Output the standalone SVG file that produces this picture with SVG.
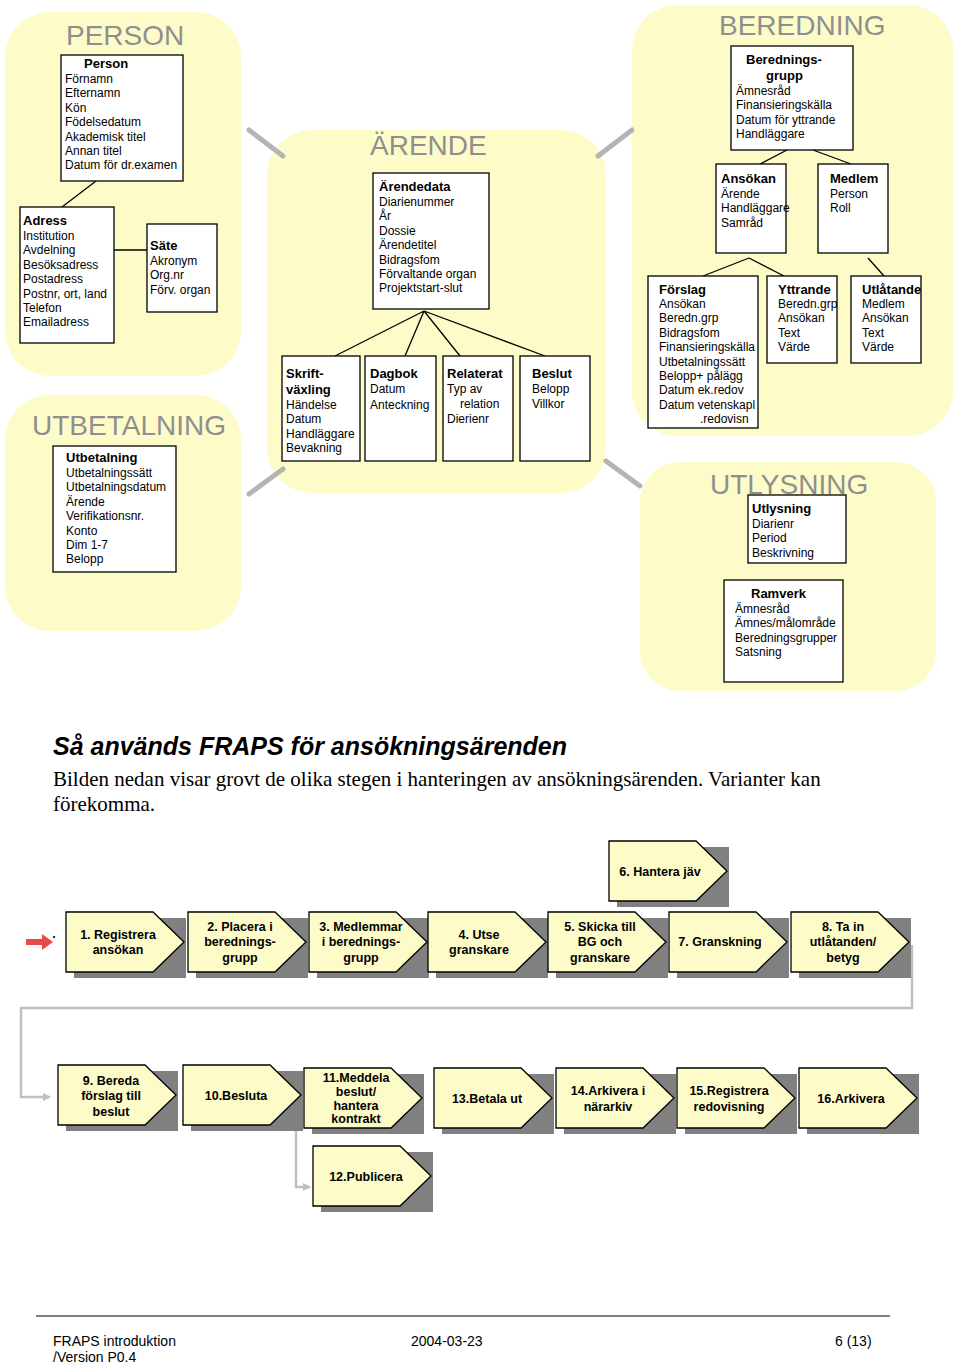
<svg xmlns="http://www.w3.org/2000/svg" width="960" height="1366" viewBox="0 0 960 1366">
<style>
.blob{fill:#fdfcc9}
.ttl{font-family:"Liberation Sans",Arial,sans-serif;font-size:28px;fill:#8f8f8f}
.box{fill:#fff;stroke:#000;stroke-width:1.3}
.t{font-family:"Liberation Sans",Arial,sans-serif;font-size:12px;fill:#000}
.b{font-weight:bold;font-size:13px}
.rel{stroke:#000;stroke-width:1.3;fill:none}
.gl{stroke:#b4b4b4;stroke-width:5;stroke-linecap:round}
.chev{fill:#fdfcc9;stroke:#000;stroke-width:1.3}
.sh{fill:#808080}
.ct{font-family:"Liberation Sans",Arial,sans-serif;font-size:12.5px;font-weight:bold;text-anchor:middle;fill:#000}
.flow{stroke:#c0c0c0;stroke-width:2.5;fill:none}
.ft{font-family:"Liberation Sans",Arial,sans-serif;font-size:14px;fill:#000}
</style>
<defs>
<g id="chv"><rect class="sh" x="8" y="6" width="112" height="60"/><path class="chev" d="M0,0H87L118,30L87,60H0Z"/></g>
<marker id="ga" markerWidth="8" markerHeight="8" refX="7" refY="4" orient="auto" markerUnits="userSpaceOnUse"><path d="M0,0L8,4L0,8Z" fill="#c0c0c0"/></marker>
</defs>
<rect width="960" height="1366" fill="#fff"/>
<!-- blobs -->
<rect class="blob" x="5" y="12" width="236" height="364" rx="45"/>
<rect class="blob" x="5" y="395" width="236" height="236" rx="45"/>
<rect class="blob" x="267" y="130" width="339" height="363" rx="45"/>
<rect class="blob" x="632" y="5" width="321" height="431" rx="45"/>
<rect class="blob" x="640" y="462" width="296" height="229" rx="40"/>
<g id="links-gray">
<line class="gl" x1="249" y1="130" x2="283" y2="156"/>
<line class="gl" x1="249" y1="494" x2="283" y2="469"/>
<line class="gl" x1="598" y1="156" x2="632" y2="130"/>
<line class="gl" x1="606" y1="461" x2="640" y2="486"/>
</g>
<text class="ttl" x="66" y="45">PERSON</text>
<text class="ttl" x="32" y="435">UTBETALNING</text>
<text class="ttl" x="370" y="155">ÄRENDE</text>
<text class="ttl" x="719" y="35">BEREDNING</text>
<text class="ttl" x="710" y="494">UTLYSNING</text>
<g id="connectors">
<path class="rel" d="M96,181L62,207M114,250H147"/>
<path class="rel" d="M424,311L335,356M424,311L405,356M424,311L460,356M424,311L545,356"/>
<path class="rel" d="M787,150L760,164M813,150L851,164M749,258L703,276M749,258L784,276M868,258L884,276"/>
<path class="flow" d="M912,945V1008H21V1097H50" marker-end="url(#ga)"/>
<path class="flow" d="M296,1103V1187H310" marker-end="url(#ga)"/>
</g>
<g id="person"><rect class="box" x="61" y="55" width="122" height="126"/>
<text class="t" x="65" y="83"><tspan class="b" x="84" y="68">Person</tspan><tspan x="65" y="83">Förnamn</tspan><tspan x="65" dy="14.4">Efternamn</tspan><tspan x="65" dy="14.4">Kön</tspan><tspan x="65" dy="14.4">Födelsedatum</tspan><tspan x="65" dy="14.4">Akademisk titel</tspan><tspan x="65" dy="14.4">Annan titel</tspan><tspan x="65" dy="14.4">Datum för dr.examen</tspan></text></g>
<g id="adress"><rect class="box" x="20" y="207" width="94" height="136"/>
<text class="t"><tspan class="b" x="23" y="225">Adress</tspan><tspan x="23" y="240">Institution</tspan><tspan x="23" dy="14.4">Avdelning</tspan><tspan x="23" dy="14.4">Besöksadress</tspan><tspan x="23" dy="14.4">Postadress</tspan><tspan x="23" dy="14.4">Postnr, ort, land</tspan><tspan x="23" dy="14.4">Telefon</tspan><tspan x="23" dy="14.4">Emailadress</tspan></text></g>
<g id="sate"><rect class="box" x="147" y="224" width="70" height="88"/>
<text class="t"><tspan class="b" x="150" y="250">Säte</tspan><tspan x="150" y="265">Akronym</tspan><tspan x="150" dy="14.4">Org.nr</tspan><tspan x="150" dy="14.4">Förv. organ</tspan></text></g>
<g id="utbetalning"><rect class="box" x="53" y="446" width="123" height="126"/>
<text class="t"><tspan class="b" x="66" y="462">Utbetalning</tspan><tspan x="66" y="477">Utbetalningssätt</tspan><tspan x="66" dy="14.4">Utbetalningsdatum</tspan><tspan x="66" dy="14.4">Ärende</tspan><tspan x="66" dy="14.4">Verifikationsnr.</tspan><tspan x="66" dy="14.4">Konto</tspan><tspan x="66" dy="14.4">Dim 1-7</tspan><tspan x="66" dy="14.4">Belopp</tspan></text></g>
<g id="arendedata"><rect class="box" x="373" y="173" width="116" height="136"/>
<text class="t"><tspan class="b" x="379" y="191">Ärendedata</tspan><tspan x="379" y="206">Diarienummer</tspan><tspan x="379" dy="14.4">År</tspan><tspan x="379" dy="14.4">Dossie</tspan><tspan x="379" dy="14.4">Ärendetitel</tspan><tspan x="379" dy="14.4">Bidragsfom</tspan><tspan x="379" dy="14.4">Förvaltande organ</tspan><tspan x="379" dy="14.4">Projektstart-slut</tspan></text></g>
<g id="skrift"><rect class="box" x="282" y="356" width="78" height="105"/>
<text class="t"><tspan class="b" x="286" y="378">Skrift-</tspan><tspan class="b" x="286" y="394">växling</tspan><tspan x="286" y="409">Händelse</tspan><tspan x="286" dy="14.4">Datum</tspan><tspan x="286" dy="14.4">Handläggare</tspan><tspan x="286" dy="14.4">Bevakning</tspan></text></g>
<g id="dagbok"><rect class="box" x="365" y="356" width="71" height="105"/>
<text class="t"><tspan class="b" x="370" y="378">Dagbok</tspan><tspan x="370" y="393">Datum</tspan><tspan x="370" y="409">Anteckning</tspan></text></g>
<g id="relaterat"><rect class="box" x="443" y="356" width="70" height="105"/>
<text class="t"><tspan class="b" x="447" y="378">Relaterat</tspan><tspan x="447" y="393">Typ av</tspan><tspan x="460" y="408">relation</tspan><tspan x="447" y="423">Dierienr</tspan></text></g>
<g id="beslut"><rect class="box" x="520" y="356" width="70" height="105"/>
<text class="t"><tspan class="b" x="532" y="378">Beslut</tspan><tspan x="532" y="393">Belopp</tspan><tspan x="532" y="408">Villkor</tspan></text></g>
<g id="beredningsgrupp"><rect class="box" x="731" y="46" width="122" height="104"/>
<text class="t"><tspan class="b" x="746" y="64">Berednings-</tspan><tspan class="b" x="766" y="80">grupp</tspan><tspan x="736" y="95">Ämnesråd</tspan><tspan x="736" dy="14.4">Finansieringskälla</tspan><tspan x="736" dy="14.4">Datum för yttrande</tspan><tspan x="736" dy="14.4">Handläggare</tspan></text></g>
<g id="ansokan"><rect class="box" x="716" y="164" width="70" height="89"/>
<text class="t"><tspan class="b" x="721" y="183">Ansökan</tspan><tspan x="721" y="198">Ärende</tspan><tspan x="721" dy="14.4">Handläggare</tspan><tspan x="721" dy="14.4">Samråd</tspan></text></g>
<g id="medlem"><rect class="box" x="818" y="164" width="70" height="89"/>
<text class="t"><tspan class="b" x="830" y="183">Medlem</tspan><tspan x="830" y="198">Person</tspan><tspan x="830" dy="14.4">Roll</tspan></text></g>
<g id="forslag"><rect class="box" x="648" y="276" width="110" height="152"/>
<text class="t"><tspan class="b" x="659" y="294">Förslag</tspan><tspan x="659" y="308">Ansökan</tspan><tspan x="659" dy="14.4">Beredn.grp</tspan><tspan x="659" dy="14.4">Bidragsfom</tspan><tspan x="659" dy="14.4">Finansieringskälla</tspan><tspan x="659" dy="14.4">Utbetalningssätt</tspan><tspan x="659" dy="14.4">Belopp+ pålägg</tspan><tspan x="659" dy="14.4">Datum ek.redov</tspan><tspan x="659" dy="14.4">Datum vetenskapl</tspan><tspan x="700" dy="14.4">.redovisn</tspan></text></g>
<g id="yttrande"><rect class="box" x="767" y="276" width="70" height="87"/>
<text class="t"><tspan class="b" x="778" y="294">Yttrande</tspan><tspan x="778" y="308">Beredn.grp</tspan><tspan x="778" dy="14.4">Ansökan</tspan><tspan x="778" dy="14.4">Text</tspan><tspan x="778" dy="14.4">Värde</tspan></text></g>
<g id="utlatande"><rect class="box" x="851" y="276" width="70" height="87"/>
<text class="t"><tspan class="b" x="862" y="294">Utlåtande</tspan><tspan x="862" y="308">Medlem</tspan><tspan x="862" dy="14.4">Ansökan</tspan><tspan x="862" dy="14.4">Text</tspan><tspan x="862" dy="14.4">Värde</tspan></text></g>
<g id="utlysning"><rect class="box" x="748" y="495" width="98" height="68"/>
<text class="t"><tspan class="b" x="752" y="513">Utlysning</tspan><tspan x="752" y="528">Diarienr</tspan><tspan x="752" dy="14.4">Period</tspan><tspan x="752" dy="14.4">Beskrivning</tspan></text></g>
<g id="ramverk"><rect class="box" x="724" y="580" width="119" height="102"/>
<text class="t"><tspan class="b" x="751" y="598">Ramverk</tspan><tspan x="735" y="613">Ämnesråd</tspan><tspan x="735" dy="14.4">Ämnes/målområde</tspan><tspan x="735" dy="14.4">Beredningsgrupper</tspan><tspan x="735" dy="14.4">Satsning</tspan></text></g>
<text x="53" y="755" font-family="Liberation Sans,Arial,sans-serif" font-size="25" font-weight="bold" font-style="italic">Så används FRAPS för ansökningsärenden</text>
<text font-family="Liberation Serif,Times New Roman,serif" font-size="21"><tspan x="53" y="786">Bilden nedan visar grovt de olika stegen i hanteringen av ansökningsärenden. Varianter kan</tspan><tspan x="53" y="811">förekomma.</tspan></text>
<!-- process -->
<path d="M26,939H42V934L53,942L42,950V945H26Z" fill="#e84a4a"/>
<text x="54" y="938" class="ct" font-size="10">.</text>
<g id="s1"><use href="#chv" x="66" y="912"/><text class="ct"><tspan x="118" y="939">1. Registrera</tspan><tspan x="118" y="954">ansökan</tspan></text></g>
<g id="s2"><use href="#chv" x="188" y="912"/><text class="ct"><tspan x="240" y="931">2. Placera i</tspan><tspan x="240" y="946">berednings-</tspan><tspan x="240" y="962">grupp</tspan></text></g>
<g id="s3"><use href="#chv" x="309" y="912"/><text class="ct"><tspan x="361" y="931">3. Medlemmar</tspan><tspan x="361" y="946">i berednings-</tspan><tspan x="361" y="962">grupp</tspan></text></g>
<g id="s4"><use href="#chv" x="428" y="912"/><text class="ct"><tspan x="479" y="939">4. Utse</tspan><tspan x="479" y="954">granskare</tspan></text></g>
<g id="s5"><use href="#chv" x="548" y="912"/><text class="ct"><tspan x="600" y="931">5. Skicka till</tspan><tspan x="600" y="946">BG och</tspan><tspan x="600" y="962">granskare</tspan></text></g>
<g id="s6"><use href="#chv" x="609" y="841"/><text class="ct"><tspan x="660" y="876">6. Hantera jäv</tspan></text></g>
<g id="s7"><use href="#chv" x="669" y="912"/><text class="ct"><tspan x="720" y="946">7. Granskning</tspan></text></g>
<g id="s8"><use href="#chv" x="791" y="912"/><text class="ct"><tspan x="843" y="931">8. Ta in</tspan><tspan x="843" y="946">utlåtanden/</tspan><tspan x="843" y="962">betyg</tspan></text></g>
<g id="s9"><use href="#chv" x="58" y="1065"/><text class="ct"><tspan x="111" y="1085">9. Bereda</tspan><tspan x="111" y="1100">förslag till</tspan><tspan x="111" y="1116">beslut</tspan></text></g>
<g id="s10"><use href="#chv" x="183" y="1065"/><text class="ct"><tspan x="236" y="1100">10.Besluta</tspan></text></g>
<g id="s11"><use href="#chv" x="304" y="1068"/><text class="ct" font-size="11"><tspan x="356" y="1082">11.Meddela</tspan><tspan x="356" y="1096">beslut/</tspan><tspan x="356" y="1110">hantera</tspan><tspan x="356" y="1123">kontrakt</tspan></text></g>
<g id="s12"><use href="#chv" x="313" y="1146"/><text class="ct"><tspan x="366" y="1181">12.Publicera</tspan></text></g>
<g id="s13"><use href="#chv" x="434" y="1068"/><text class="ct"><tspan x="487" y="1103">13.Betala ut</tspan></text></g>
<g id="s14"><use href="#chv" x="556" y="1068"/><text class="ct"><tspan x="608" y="1095">14.Arkivera i</tspan><tspan x="608" y="1111">närarkiv</tspan></text></g>
<g id="s15"><use href="#chv" x="677" y="1068"/><text class="ct"><tspan x="729" y="1095">15.Registrera</tspan><tspan x="729" y="1111">redovisning</tspan></text></g>
<g id="s16"><use href="#chv" x="799" y="1068"/><text class="ct"><tspan x="851" y="1103">16.Arkivera</tspan></text></g>
<line x1="36" y1="1316" x2="890" y2="1316" stroke="#000" stroke-width="1"/>
<text class="ft"><tspan x="53" y="1346">FRAPS introduktion</tspan><tspan x="53" y="1362">/Version P0.4</tspan></text>
<text class="ft" x="411" y="1346">2004-03-23</text>
<text class="ft" x="835" y="1346">6 (13)</text>
</svg>
